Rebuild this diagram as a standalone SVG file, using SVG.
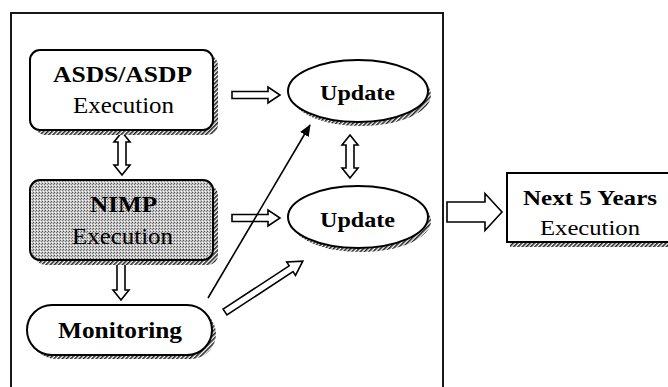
<svg xmlns="http://www.w3.org/2000/svg" width="668" height="387" viewBox="0 0 668 387">
<defs>
<pattern id="hatch" patternUnits="userSpaceOnUse" width="3" height="3" patternTransform="rotate(45)">
<rect width="3" height="3" fill="#fff"/>
<rect width="1.6" height="3" fill="#222"/>
</pattern>
<pattern id="stip" patternUnits="userSpaceOnUse" width="3" height="3">
<rect width="3" height="3" fill="#c8c8c8"/>
<rect x="0" y="0" width="1" height="1" fill="#555"/>
<rect x="2" y="1" width="1" height="1" fill="#777"/>
<rect x="1" y="2" width="1" height="1" fill="#fff"/>
</pattern>
<marker id="ah" markerWidth="12" markerHeight="10" refX="11" refY="5" orient="auto" markerUnits="userSpaceOnUse">
<path d="M0,0 L12,5 L0,10 Z" fill="#000"/>
</marker>
</defs>
<style>
.box{fill:#fff;stroke:#000;stroke-width:2}
.shadow{fill:url(#hatch);stroke:none}
.harrow{fill:#fff;stroke:#000;stroke-width:1.6;stroke-linejoin:miter}
.t{font-family:"Liberation Serif","Times New Roman",serif;fill:#000;text-anchor:middle}
.b{font-weight:bold}
</style>
<rect x="0" y="0" width="668" height="387" fill="#fff"/>
<rect x="11" y="13" width="432" height="400" fill="none" stroke="#000" stroke-width="1.8"/>

<g id="connectors">
<polygon class="harrow" points="232,91.5 268,91.5 268,87 280,95 268,103 268,98.5 232,98.5"/>
<polygon class="harrow" points="232,214.5 268,214.5 268,210 280,218 268,226 268,221.5 232,221.5"/>
<polygon class="harrow" points="122,132 130,142 126,142 126,165 130,165 122,175 114,165 118,165 118,142 114,142"/>
<polygon class="harrow" points="350,135 358,145 354,145 354,168 358,168 350,178 342,168 346,168 346,145 342,145"/>
<polygon class="harrow" points="117,263 125,263 125,290 129,290 121,300 113,290 117,290"/>
<polygon class="harrow" transform="translate(225,312) rotate(-33.2)" points="0,-3.5 79,-3.5 79,-8 93,0 79,8 79,3.5 0,3.5"/>
<polygon class="harrow" points="447,202 485,202 485,193.5 502,212 485,230.5 485,222 447,222"/>
<line x1="208" y1="298" x2="310" y2="125" stroke="#000" stroke-width="1.6" marker-end="url(#ah)"/>
</g>

<g id="asds">
<rect class="shadow" x="35" y="55" width="183" height="80" rx="10"/>
<rect class="box" x="30" y="50" width="183" height="80" rx="10"/>
<text class="t b" x="122.5" y="82" font-size="24" textLength="139" lengthAdjust="spacingAndGlyphs">ASDS/ASDP</text>
<text class="t" x="123.5" y="113" font-size="23" textLength="101" lengthAdjust="spacingAndGlyphs">Execution</text>
</g>

<g id="nimp">
<rect class="shadow" x="35" y="185" width="183" height="80" rx="10"/>
<rect x="30" y="180" width="183" height="80" rx="10" fill="url(#stip)" stroke="#000" stroke-width="2"/>
<text class="t b" x="123.5" y="212" font-size="24" textLength="67" lengthAdjust="spacingAndGlyphs">NIMP</text>
<text class="t" x="122.5" y="244" font-size="23" textLength="101" lengthAdjust="spacingAndGlyphs">Execution</text>
</g>

<g id="monitoring">
<rect class="shadow" x="31" y="309" width="185" height="50" rx="25"/>
<rect class="box" x="27" y="305" width="185" height="50" rx="25"/>
<text class="t b" x="120" y="338" font-size="23" textLength="124" lengthAdjust="spacingAndGlyphs">Monitoring</text>
</g>

<g id="update1">
<ellipse class="shadow" cx="361" cy="95" rx="70" ry="31"/>
<ellipse class="box" cx="358" cy="91" rx="70" ry="31"/>
<text class="t b" x="357.5" y="100" font-size="22" textLength="75" lengthAdjust="spacingAndGlyphs">Update</text>
</g>

<g id="update2">
<ellipse class="shadow" cx="361" cy="221" rx="70" ry="31"/>
<ellipse class="box" cx="358" cy="217" rx="70" ry="31"/>
<text class="t b" x="357.5" y="227" font-size="22" textLength="75" lengthAdjust="spacingAndGlyphs">Update</text>
</g>

<g id="next5">
<rect class="shadow" x="510" y="242" width="170" height="5"/>
<rect class="box" x="507" y="173" width="175" height="69"/>
<text class="t b" x="590" y="205" font-size="22" textLength="134" lengthAdjust="spacingAndGlyphs">Next 5 Years</text>
<text class="t" x="590" y="235" font-size="22" textLength="100" lengthAdjust="spacingAndGlyphs">Execution</text>
</g>
</svg>
